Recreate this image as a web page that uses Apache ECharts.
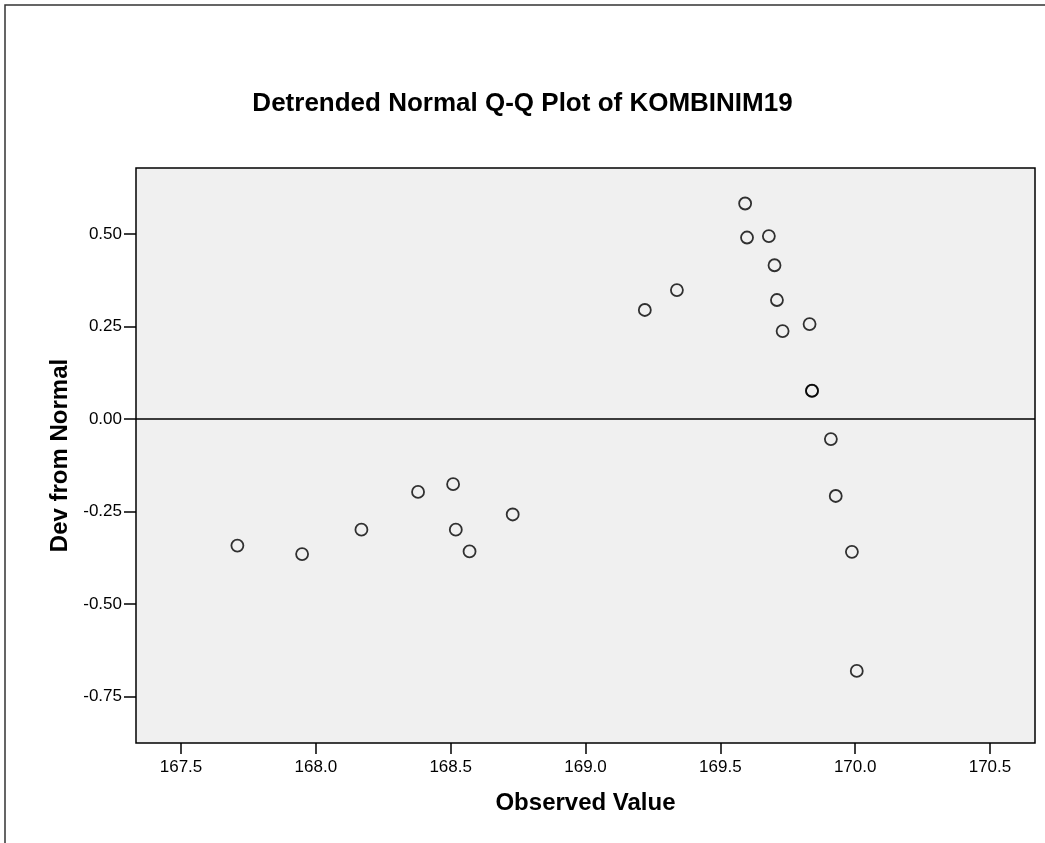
<!DOCTYPE html>
<html>
<head>
<meta charset="utf-8">
<script src="https://cdn.jsdelivr.net/npm/echarts@6/dist/echarts.min.js"></script>
<style>
  html, body { margin: 0; padding: 0; background: #fff; }
  #chart { width: 1045px; height: 843px; }
</style>
</head>
<body>
<div id="chart"></div>
<script>
const observed = [167.709, 167.949, 168.169, 168.379, 168.509, 168.519, 168.570, 168.730,
  169.220, 169.339, 169.592, 169.599, 169.680, 169.701, 169.710, 169.731,
  169.831, 169.840, 169.840, 169.910, 169.928, 169.988, 170.006];
const devFromNormal = [-0.342, -0.365, -0.299, -0.197, -0.176, -0.299, -0.358, -0.258,
  0.295, 0.349, 0.583, 0.491, 0.495, 0.416, 0.322, 0.238,
  0.257, 0.076, 0.077, -0.054, -0.208, -0.359, -0.681];
const xTicks = [167.5, 168.0, 168.5, 169.0, 169.5, 170.0, 170.5];
const yTicks = [-0.75, -0.5, -0.25, 0, 0.25, 0.5];

const font = 'Arial, "Liberation Sans", Helvetica, sans-serif';

let chart = echarts.init(document.getElementById('chart'));
chart.setOption(buildQQOptions());

function buildQQOptions() {
  return {
    animation: false,
    backgroundColor: '#fff',
    textStyle: { fontFamily: font },
    title: {
      text: 'Detrended Normal Q-Q Plot of KOMBINIM19',
      left: 'center',
      top: 86,
      textStyle: { fontFamily: font, fontSize: 26, fontWeight: 'bold', color: '#000' }
    },
    graphic: [
      {
        type: 'rect',
        shape: { x: 5, y: 5, width: 1200, height: 1000 },
        style: { fill: 'none', stroke: '#333', lineWidth: 1.5 },
        z: -1
      }
    ],
    grid: {
      left: 136, top: 168, right: 10, bottom: 100,
      show: true,
      backgroundColor: '#f0f0f0',
      borderColor: '#000',
      borderWidth: 1.5
    },
    xAxis: {
      type: 'value',
      min: 167.333,
      max: 170.667,
      name: 'Observed Value',
      nameLocation: 'middle',
      nameGap: 48,
      nameTextStyle: { fontFamily: font, fontSize: 24, fontWeight: 'bold', color: '#000' },
      axisLine: { show: false, onZero: false },
      axisTick: { show: true, length: 11, customValues: xTicks, lineStyle: { color: '#000', width: 1.5 } },
      axisLabel: {
        customValues: xTicks,
        margin: 16,
        fontSize: 17,
        color: '#000',
        formatter: function (v) { return v.toFixed(1); }
      },
      splitLine: { show: false }
    },
    yAxis: {
      type: 'value',
      min: -0.876,
      max: 0.679,
      name: 'Dev from Normal',
      nameLocation: 'middle',
      nameGap: 62,
      nameTextStyle: { fontFamily: font, fontSize: 24, fontWeight: 'bold', color: '#000' },
      axisLine: { show: false, onZero: false },
      axisTick: { show: true, length: 12, customValues: yTicks, lineStyle: { color: '#000', width: 1.5 } },
      axisLabel: {
        customValues: yTicks,
        margin: 14,
        fontSize: 17,
        color: '#000',
        formatter: function (v) { return v.toFixed(2); }
      },
      splitLine: { show: false }
    },
    series: [
      {
        type: 'scatter',
        data: observed.map(function (x, i) { return [x, devFromNormal[i]]; }),
        symbol: 'circle',
        symbolSize: 12,
        itemStyle: { color: 'rgba(0,0,0,0)', borderColor: '#000', borderWidth: 1.8 },
        markLine: {
          silent: true,
          symbol: 'none',
          label: { show: false },
          lineStyle: { color: '#000', width: 1.5, type: 'solid' },
          data: [{ yAxis: 0 }]
        }
      }
    ]
  };
}
</script>
</body>
</html>
